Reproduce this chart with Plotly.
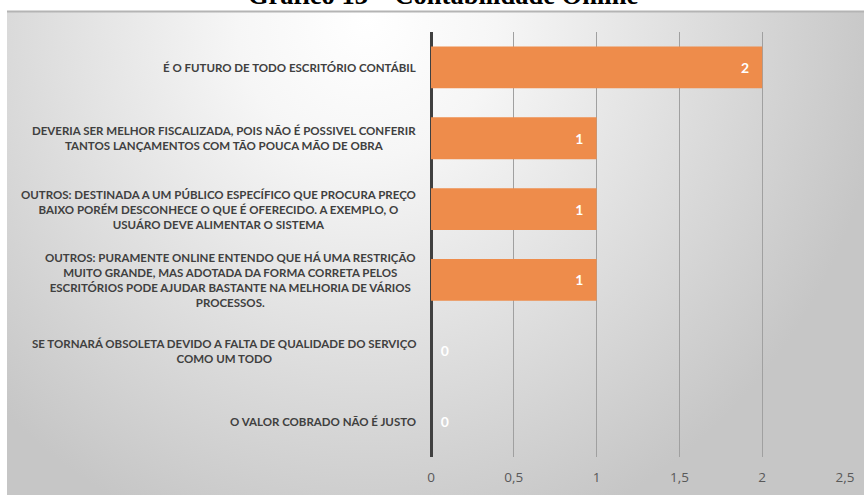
import base64
import plotly.graph_objects as go

categories = [
    "É O FUTURO DE TODO ESCRITÓRIO CONTÁBIL",
    "DEVERIA SER MELHOR FISCALIZADA, POIS NÃO É POSSIVEL CONFERIR<br>TANTOS LANÇAMENTOS COM TÃO POUCA MÃO DE OBRA",
    "OUTROS: DESTINADA A UM PÚBLICO ESPECÍFICO QUE PROCURA PREÇO<br>BAIXO PORÉM DESCONHECE O QUE É OFERECIDO. A EXEMPLO, O<br>USUÁRO DEVE ALIMENTAR O SISTEMA",
    "OUTROS: PURAMENTE ONLINE ENTENDO QUE HÁ UMA RESTRIÇÃO<br>MUITO GRANDE, MAS ADOTADA DA FORMA CORRETA PELOS<br>ESCRITÓRIOS PODE AJUDAR BASTANTE NA MELHORIA DE VÁRIOS<br>PROCESSOS.",
    "SE TORNARÁ OBSOLETA DEVIDO A FALTA DE QUALIDADE DO SERVIÇO<br>COMO UM TODO",
    "O VALOR COBRADO NÃO É JUSTO",
]
values = [2, 1, 1, 1, 0, 0]
tick_values = [0, 0.5, 1, 1.5, 2, 2.5]
title = "Gráfico 13 – Contabilidade Online"

W, H = 864, 495
L, R, T, B = 431, 19, 32, 38
pw, ph = W - L - R, H - T - B

def px_to_paper_x(p):
    return (p - L) / pw

def px_to_paper_y(p):
    return (H - B - p) / ph

ids = [f"c{i}" for i in range(len(categories))]

label_text = ["\u00a0" * 2 + str(v) if v == 0 else str(v) + "\u00a0" * 3 for v in values]
positions = ["outside" if v == 0 else "inside" for v in values]

lbl_font = dict(color="white", size=14, family="Lato, sans-serif", weight="bold")
fig = go.Figure(go.Bar(
    y=ids, x=values, orientation="h",
    marker=dict(color="#EE8C4B", line=dict(width=0)),
    text=label_text, textposition=positions,
    insidetextanchor="end",
    textfont=lbl_font, outsidetextfont=lbl_font,
    cliponaxis=False,
    hoverinfo="skip",
))

svg = '''<svg xmlns="http://www.w3.org/2000/svg" width="857" height="484" viewBox="0 0 857 484">
<defs><radialGradient id="g" gradientUnits="userSpaceOnUse" cx="360" cy="10" r="520" gradientTransform="translate(360 10) scale(1 1.05) translate(-360 -10)">
<stop offset="0" stop-color="#ffffff"/><stop offset="0.25" stop-color="#f6f6f6"/><stop offset="0.75" stop-color="#d6d6d6"/><stop offset="1" stop-color="#c6c6c6"/></radialGradient></defs>
<rect width="857" height="484" fill="url(#g)"/></svg>'''
src = "data:image/svg+xml;base64," + base64.b64encode(svg.encode()).decode()

annotations = []
for cid, cat in zip(ids, categories):
    annotations.append(dict(
        x=px_to_paper_x(418), xref="paper", y=cid, yref="y",
        xanchor="right", yanchor="middle", align="center",
        text=cat, showarrow=False,
        font=dict(family="Lato, sans-serif", size=11.5, color="#404040", weight="bold"),
    ))

annotations.append(dict(
    x=px_to_paper_x(443), xref="paper", y=px_to_paper_y(12), yref="paper",
    xanchor="center", yanchor="bottom", text="<b>" + title + "</b>", showarrow=False,
    font=dict(family="Liberation Serif, Times New Roman, serif", size=26.5, color="black"),
))

fig.update_layout(
    width=W, height=H,
    margin=dict(l=L, r=R, t=T, b=B, pad=0, autoexpand=False),
    paper_bgcolor="white", plot_bgcolor="rgba(0,0,0,0)",
    separators=", ",
    showlegend=False,
    bargap=0.41,
    annotations=annotations,
    images=[dict(source=src, xref="paper", yref="paper",
                 x=px_to_paper_x(7), y=px_to_paper_y(11),
                 sizex=(W - 7) / pw, sizey=(H - 11) / ph,
                 xanchor="left", yanchor="top", sizing="stretch", layer="below")],
    shapes=[dict(type="line", xref="paper", yref="paper",
                 x0=px_to_paper_x(7), x1=px_to_paper_x(W), y0=px_to_paper_y(11.5), y1=px_to_paper_y(11.5),
                 line=dict(color="#b4b4b4", width=2))],
    xaxis=dict(range=[0, 2.5], tickvals=tick_values, showgrid=True, gridcolor="#a0a0a0", gridwidth=1,
               zeroline=True, zerolinecolor="#404040", zerolinewidth=2.5, automargin=False,
               showline=False, ticks="outside", ticklen=8, tickcolor="rgba(0,0,0,0)",
               tickfont=dict(family="Open Sans, sans-serif", size=13.5, color="#595959")),
    yaxis=dict(categoryorder="array", categoryarray=ids, autorange="reversed", automargin=False,
               showticklabels=False, showgrid=False, zeroline=False, ticks=""),
)

fig.write_html("out.html")
